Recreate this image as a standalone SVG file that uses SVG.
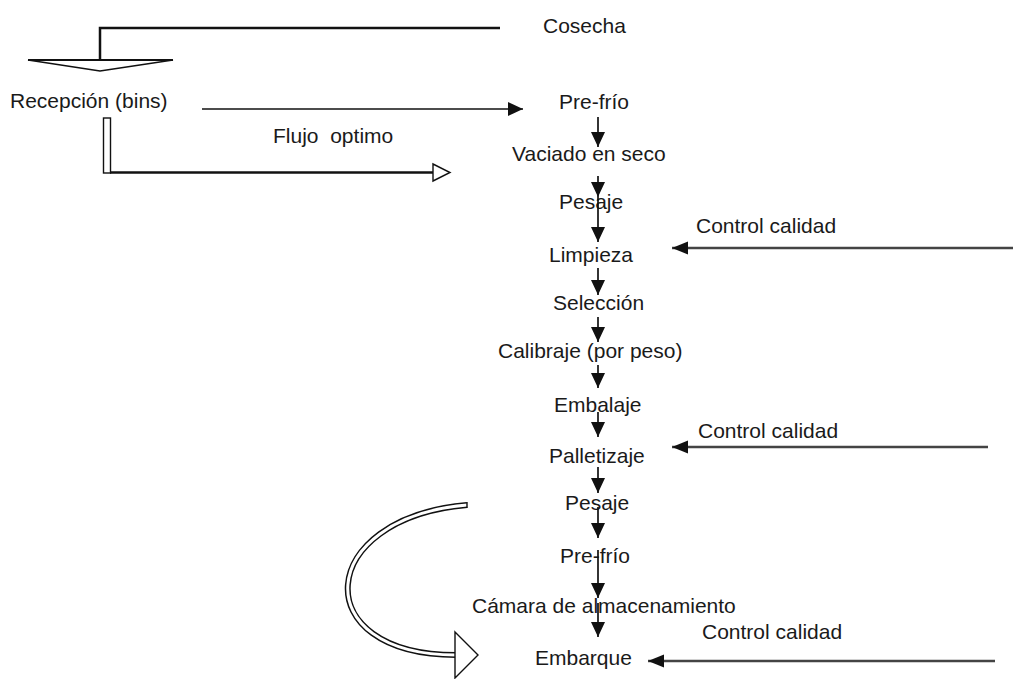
<svg xmlns="http://www.w3.org/2000/svg" width="1013" height="679" viewBox="0 0 1013 679">
<style>
text{font-family:"Liberation Sans",Arial,sans-serif;font-size:21px;fill:#1a1a1a}
.ln{stroke:#111;stroke-width:1.7;fill:none}
.thk{stroke:#111;stroke-width:2.5;fill:none}
.qc{stroke:#444;stroke-width:2.4;fill:none}
.hollow{fill:#fff;stroke:#111;stroke-width:1.4}
</style>
<defs>
<marker id="ah" markerUnits="userSpaceOnUse" markerWidth="18" markerHeight="16" refX="15" refY="7" orient="auto"><path d="M0,0 L15,7 L0,14 z" fill="#111"/></marker>
<marker id="ahh" markerUnits="userSpaceOnUse" markerWidth="18" markerHeight="14" refX="16" refY="6.5" orient="auto"><path d="M0,0 L16,6.5 L0,13 z" fill="#111"/></marker>
</defs>
<g id="n-cosecha"><text x="543" y="33">Cosecha</text></g>
<g id="n-recepcion"><text x="10" y="108">Recepción (bins)</text></g>
<g id="n-flujo"><text x="273" y="143" xml:space="preserve">Flujo  optimo</text></g>
<g id="n-prefrio1"><text x="559" y="109">Pre-frío</text></g>
<g id="n-vaciado"><text x="512" y="161">Vaciado en seco</text></g>
<g id="n-pesaje1"><text x="559" y="209">Pesaje</text></g>
<g id="n-cc1"><text x="696" y="233">Control calidad</text></g>
<g id="n-limpieza"><text x="549" y="262">Limpieza</text></g>
<g id="n-seleccion"><text x="553" y="310">Selección</text></g>
<g id="n-calibraje"><text x="498" y="358">Calibraje (por peso)</text></g>
<g id="n-embalaje"><text x="554" y="412">Embalaje</text></g>
<g id="n-cc2"><text x="698" y="438">Control calidad</text></g>
<g id="n-palletizaje"><text x="549" y="463">Palletizaje</text></g>
<g id="n-pesaje2"><text x="565" y="510">Pesaje</text></g>
<g id="n-prefrio2"><text x="560" y="563">Pre-frío</text></g>
<g id="n-camara"><text x="472" y="613">Cámara de almacenamiento</text></g>
<g id="n-cc3"><text x="702" y="639">Control calidad</text></g>
<g id="n-embarque"><text x="535" y="665">Embarque</text></g>
<g id="connectors">
<polyline class="thk" points="500,28 100,28 100,60"/>
<path class="hollow" d="M28,60 L173,60 L100,71 z"/>
<line x1="28" y1="60" x2="173" y2="60" stroke="#111" stroke-width="2.2"/>
<line class="ln" x1="202" y1="109" x2="523" y2="109" marker-end="url(#ah)"/>
<rect x="103.5" y="118" width="7" height="55" fill="#fff" stroke="#111" stroke-width="1.4"/>
<line class="thk" x1="110" y1="172.5" x2="434" y2="172.5"/>
<path class="hollow" d="M433,164 L450,172.5 L433,181 z"/>
<line class="ln" x1="598" y1="117" x2="598" y2="147" marker-end="url(#ah)"/>
<line class="ln" x1="598" y1="176" x2="598" y2="197" marker-end="url(#ah)"/>
<line class="ln" x1="598" y1="197" x2="598" y2="242" marker-end="url(#ah)"/>
<line class="ln" x1="598" y1="268" x2="598" y2="295" marker-end="url(#ah)"/>
<line class="ln" x1="598" y1="317" x2="598" y2="342" marker-end="url(#ah)"/>
<line class="ln" x1="598" y1="365" x2="598" y2="388" marker-end="url(#ah)"/>
<line class="ln" x1="598" y1="412" x2="598" y2="437" marker-end="url(#ah)"/>
<line class="ln" x1="598" y1="467" x2="598" y2="493" marker-end="url(#ah)"/>
<line class="ln" x1="598" y1="507" x2="598" y2="538" marker-end="url(#ah)"/>
<line class="ln" x1="598" y1="550" x2="598" y2="598" marker-end="url(#ah)"/>
<line class="ln" x1="598" y1="603" x2="598" y2="637" marker-end="url(#ah)"/>
<line class="qc" x1="1013" y1="248" x2="672" y2="248" marker-end="url(#ahh)"/>
<line class="qc" x1="988" y1="447" x2="672" y2="447" marker-end="url(#ahh)"/>
<line class="qc" x1="995" y1="661" x2="648" y2="661" marker-end="url(#ahh)"/>
<path d="M467,505 C315,518 305,655 456,655" fill="none" stroke="#111" stroke-width="6"/>
<path d="M467,505 C315,518 305,655 456,655" fill="none" stroke="#fff" stroke-width="3"/>
<line x1="467" y1="502" x2="467" y2="508" stroke="#111" stroke-width="1.4"/>
<path class="hollow" d="M455,632 L478,655 L455,678 z"/>
</g>
</svg>
